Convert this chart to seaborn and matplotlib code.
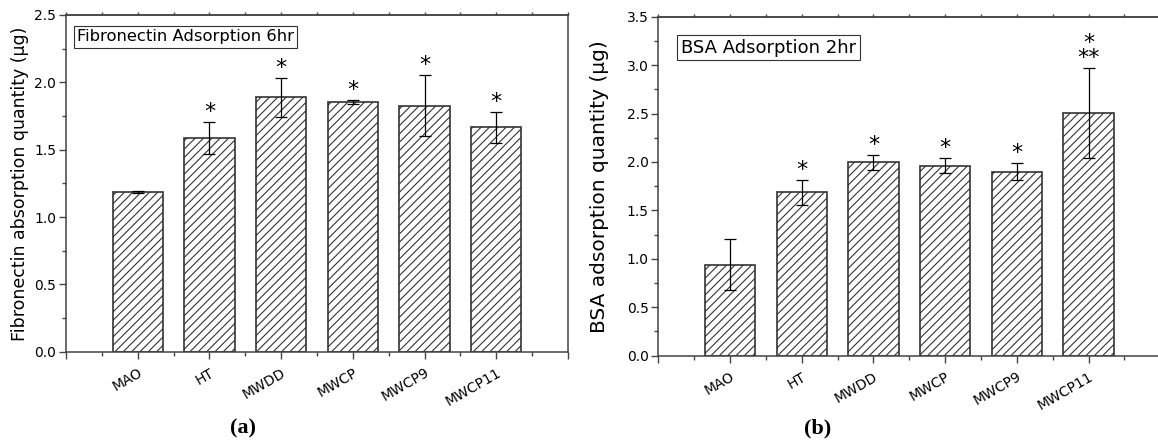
import numpy as np
import pandas as pd
import matplotlib
matplotlib.use('Agg')
import matplotlib.pyplot as plt
import seaborn as sns
from matplotlib.ticker import FixedLocator, MultipleLocator

# ---- data ----
samples = ['MAO', 'HT', 'MWDD', 'MWCP', 'MWCP9', 'MWCP11']

fn_mean = [1.185, 1.585, 1.890, 1.853, 1.828, 1.667]
fn_err = [0.010, 0.120, 0.145, 0.015, 0.223, 0.115]
fn_marks = ['', '*', '*', '*', '*', '*']

bsa_mean = [0.940, 1.685, 1.995, 1.960, 1.900, 2.505]
bsa_err = [0.262, 0.128, 0.078, 0.076, 0.087, 0.463]
bsa_marks = ['', '*', '*', '*', '*', '*\n**']

sns.set_style('ticks')
plt.rcParams['font.family'] = ['DejaVu Sans']
plt.rcParams['hatch.linewidth'] = 0.8
plt.rcParams['text.color'] = 'black'
plt.rcParams['axes.labelcolor'] = 'black'
plt.rcParams['xtick.labelcolor'] = 'black'
plt.rcParams['ytick.labelcolor'] = 'black'

W, H = 1158, 443
fig = plt.figure(figsize=(W / 100, H / 100), dpi=100)
ax1 = fig.add_axes([66 / W, 1 - 351.7 / H, 502 / W, 336.7 / H])
ax2 = fig.add_axes([658.3 / W, 1 - 355.7 / H, 502 / W, 339 / H])

spine_c = '#444444'


def draw_panel(ax, mean, err, marks, ymax, ylabel, tag, tag_xy, lab_fs, tag_fs, lab_x):
    df = pd.DataFrame({'sample': samples, 'value': mean})
    sns.barplot(data=df, x='sample', y='value', ax=ax, color='white', width=0.7,
                errorbar=None, edgecolor='#333333', linewidth=1.2)
    for p in ax.patches:
        p.set_facecolor('white')
        p.set_hatch('////')
    x = np.arange(len(samples))
    ax.errorbar(x, mean, yerr=err, fmt='none', ecolor='black',
                elinewidth=0.9, capsize=4, capthick=0.9)
    for i, m in enumerate(marks):
        if m:
            ax.annotate(m, xy=(i, mean[i] + err[i]), xytext=(0, 0),
                        textcoords='offset points', ha='center', va='bottom',
                        fontsize=16, linespacing=0.7)

    ax.set_xlim(-1, len(samples))
    ax.set_ylim(0, ymax)
    ax.xaxis.set_major_locator(FixedLocator(np.arange(-1, len(samples) + 1)))
    ax.set_xticklabels([''] + samples + [''], rotation=30, ha='right',
                       rotation_mode='anchor', fontsize=10)
    ax.xaxis.set_minor_locator(FixedLocator(np.arange(-0.5, len(samples), 1.0)))
    ax.yaxis.set_major_locator(MultipleLocator(0.5))
    ax.yaxis.set_minor_locator(MultipleLocator(0.25))
    ax.yaxis.set_major_formatter(matplotlib.ticker.FormatStrFormatter('%.1f'))
    ax.tick_params(axis='both', which='major', direction='out', length=5,
                   width=1, color=spine_c, labelsize=10, pad=2)
    ax.tick_params(axis='x', which='major', pad=5)
    ax.tick_params(axis='both', which='minor', direction='out', length=3,
                   width=1, color=spine_c)
    ax.set_xlabel('')
    ax.set_ylabel(ylabel, fontsize=lab_fs)
    ax.yaxis.set_label_coords(lab_x, 0.5)

    for s in ax.spines.values():
        s.set_visible(True)
        s.set_color(spine_c)
        s.set_linewidth(1.1)

    top = ax.secondary_xaxis('top')
    top.xaxis.set_major_locator(FixedLocator(np.arange(-1, len(samples) + 0.01, 0.5)))
    top.tick_params(length=2, width=1, color=spine_c, labeltop=False)
    top.spines['top'].set_color(spine_c)
    top.spines['top'].set_linewidth(1.1)

    ax.text(tag_xy[0], tag_xy[1], tag, transform=ax.transAxes, ha='left',
            va='center', fontsize=tag_fs,
            bbox=dict(boxstyle='square,pad=0.2', fc='white', ec='#333333', lw=0.8))


draw_panel(ax1, fn_mean, fn_err, fn_marks, 2.5,
           'Fibronectin absorption quantity (\u03bcg)',
           'Fibronectin Adsorption 6hr', (0.022, 0.935), 12.5, 11.8, -0.074)
draw_panel(ax2, bsa_mean, bsa_err, bsa_marks, 3.5,
           'BSA adsorption quantity (\u03bcg)',
           'BSA Adsorption 2hr', (0.045, 0.908), 14.5, 13, -0.098)

fig.text(243 / W, 1 - 428 / H, '(a)', ha='center', va='center',
         family='Liberation Serif', weight='bold', fontsize=16)
fig.text(818 / W, 1 - 428 / H, '(b)', ha='center', va='center',
         family='Liberation Serif', weight='bold', fontsize=16)

fig.savefig('out.png', dpi=100)
